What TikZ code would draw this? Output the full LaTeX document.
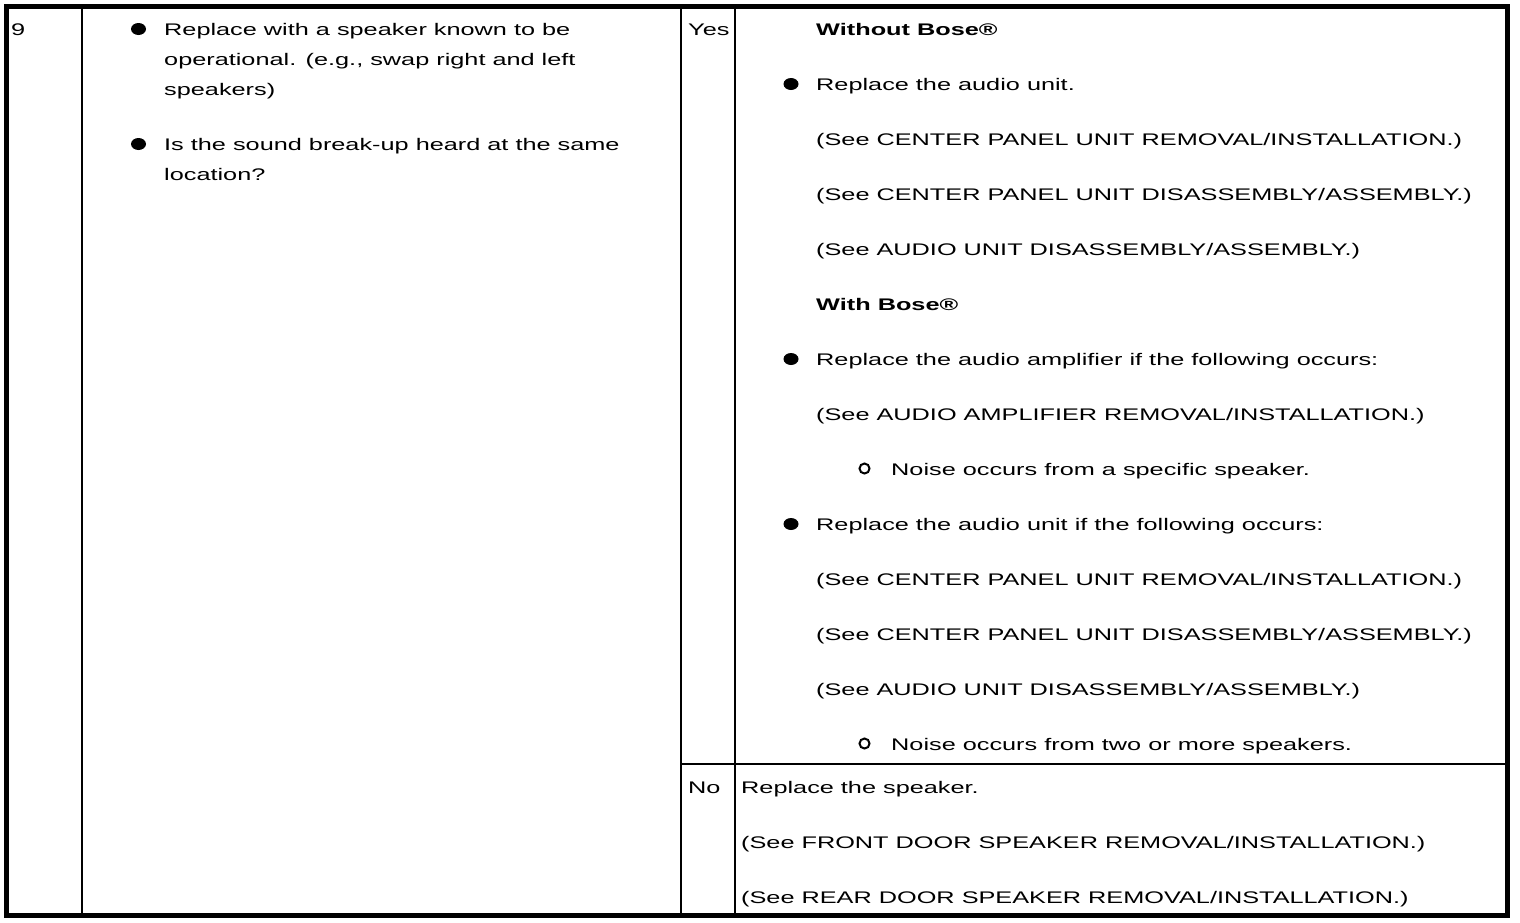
\documentclass[tikz,border=0pt]{standalone}
\usepackage{fontspec}
\setmainfont[FakeStretch=1.505]{Liberation Sans}
\begin{document}
\begin{tikzpicture}[x=1pt,y=-1pt,
  txt/.style={anchor=base west,inner sep=0pt,font=\fontsize{16.8}{20}\selectfont},
  btxt/.style={txt,font=\fontsize{16.8}{20}\selectfont\bfseries},
  thin rule/.style={line width=2pt},
  frame rule/.style={line width=5pt},
  dot/.style={fill=black},
  ring/.style={draw=black,line width=2pt}]
\useasboundingbox (0,0) rectangle (1520,922);
% grid lines
\draw[thin rule] (82,6.5) -- (82,915);
\draw[thin rule] (681,6.5) -- (681,915);
\draw[thin rule] (734.5,6.5) -- (734.5,915);
\draw[thin rule] (681,763.5) -- (1507,763.5);
\draw[frame rule] (6.5,6.5) rectangle (1507,915);
% step number
\node[txt] (num) at (11,35.5) {9};
% left column
\fill[dot] (138.5,29) ellipse (7.5pt and 6pt);
\node[txt] (l1) at (164,35.5) {Replace with a speaker known to be};
\node[txt] (l2) at (164,65.5) {operational. (e.g., swap right and left};
\node[txt] (l3) at (164,95.5) {speakers)};
\fill[dot] (138.5,144) ellipse (7.5pt and 6pt);
\node[txt] (l4) at (164,150.5) {Is the sound break-up heard at the same};
\node[txt] (l5) at (164,180.5) {location?};
% yes / no
\node[txt] (yes) at (688,35.5) {Yes};
\node[txt] (no) at (688,793) {No};
% yes column
\node[btxt] (r1) at (816,35.5) {Without Bose®};
\fill[dot] (791,84) ellipse (7.5pt and 6pt);
\node[txt] (r2) at (816,90.5) {Replace the audio unit.};
\node[txt] (r3) at (816,145.5) {(See CENTER PANEL UNIT REMOVAL/INSTALLATION.)};
\node[txt] (r4) at (816,200.5) {(See CENTER PANEL UNIT DISASSEMBLY/ASSEMBLY.)};
\node[txt] (r5) at (816,255.5) {(See AUDIO UNIT DISASSEMBLY/ASSEMBLY.)};
\node[btxt] (r6) at (816,310.5) {With Bose®};
\fill[dot] (791,359) ellipse (7.5pt and 6pt);
\node[txt] (r7) at (816,365.5) {Replace the audio amplifier if the following occurs:};
\node[txt] (r8) at (816,420.5) {(See AUDIO AMPLIFIER REMOVAL/INSTALLATION.)};
\draw[ring] (864.5,468.5) circle (5pt);
\node[txt] (r9) at (891,475.5) {Noise occurs from a specific speaker.};
\fill[dot] (791,524) ellipse (7.5pt and 6pt);
\node[txt] (r10) at (816,530.5) {Replace the audio unit if the following occurs:};
\node[txt] (r11) at (816,585.5) {(See CENTER PANEL UNIT REMOVAL/INSTALLATION.)};
\node[txt] (r12) at (816,640.5) {(See CENTER PANEL UNIT DISASSEMBLY/ASSEMBLY.)};
\node[txt] (r13) at (816,695.5) {(See AUDIO UNIT DISASSEMBLY/ASSEMBLY.)};
\draw[ring] (864.5,743.5) circle (5pt);
\node[txt] (r14) at (891,750.5) {Noise occurs from two or more speakers.};
% no column
\node[txt] (n1) at (741,793) {Replace the speaker.};
\node[txt] (n2) at (741,848) {(See FRONT DOOR SPEAKER REMOVAL/INSTALLATION.)};
\node[txt] (n3) at (741,903) {(See REAR DOOR SPEAKER REMOVAL/INSTALLATION.)};
\end{tikzpicture}
\end{document}
